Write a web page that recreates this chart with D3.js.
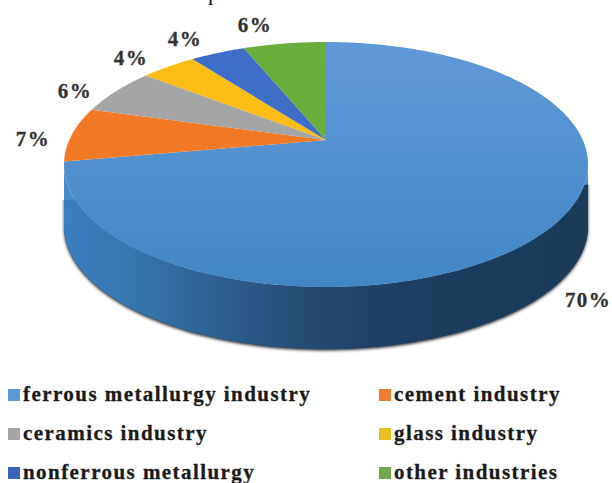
<!DOCTYPE html>
<html>
<head>
<meta charset="utf-8">
<style>
html,body{margin:0;padding:0;background:#fff;}
svg{display:block;}
text{font-family:"Liberation Serif",serif;font-weight:bold;}
</style>
<script src="https://cdn.jsdelivr.net/npm/d3@7"></script>
</head>
<body>
<svg id="chart" width="612" height="483"></svg>
<script>
const categories = ["ferrous metallurgy industry","cement industry","ceramics industry","glass industry","nonferrous metallurgy","other industries"];
const shares = [70,7,6,4,4,6];
const shareLabels = ["70%","7%","6%","4%","4%","6%"];
const colors = ["#5596d6","#f27a26","#a5a5a5","#fbbc14","#3d6ec8","#69ad3c"];
const swatchColors = ["#5b9bd5","#ed7d31","#a5a5a5","#e8c020","#3a64b8","#70a850"];
const labelCenters = [[588,300],[33,139],[75,91],[131,58],[185,39],[255,25]];

const svg = d3.select("#chart");
const defs = svg.append("defs");

// Perspective projection of a tilted disc: the far rim is foreshortened,
// which pushes the hub above the visual centre of the ellipse.
const hub = {x:326, y:140};
const tilt = 0.2, radiusX = 256.7, radiusY = 117.6, thickness = 62;
function rim(angle, drop = 0) {
  const u = Math.sin(angle), v = Math.cos(angle), w = 1 + tilt * v;
  return [hub.x + radiusX * u / w, hub.y - radiusY * v / w + drop];
}

const arcs = d3.pie().sort(null).value(d => d)(shares);
const line = d3.line();

// Vertical wash on the top face
const face = defs.append("linearGradient").attr("id","face-main")
  .attr("gradientUnits","userSpaceOnUse").attr("x1",0).attr("x2",0).attr("y1",42).attr("y2",287);
face.append("stop").attr("offset",0).attr("stop-color","#6199d8");
face.append("stop").attr("offset",1).attr("stop-color","#4187c6");

// Wall shading runs dark on the right, lighter toward the left end
const wall = defs.append("linearGradient").attr("id","wall")
  .attr("gradientUnits","userSpaceOnUse").attr("x1",64).attr("x2",590).attr("y1",0).attr("y2",0);
[[0,"#3a7fbf"],[0.14,"#3575ad"],[0.3,"#2c5f90"],[0.45,"#264c75"],[0.58,"#1e4166"],[0.75,"#1b3c5c"],[1,"#1a3a58"]]
  .forEach(([o,c]) => wall.append("stop").attr("offset",o).attr("stop-color",c));

defs.append("filter").attr("id","soft").attr("x","-5%").attr("y","-10%").attr("width","110%").attr("height","120%")
  .append("feGaussianBlur").attr("stdDeviation",1.6);

// The wall only shows below the widest part of the disc
defs.append("clipPath").attr("id","wall-clip").append("path")
  .attr("d", line([[0,202],[612,184],[612,483],[0,483]]) + "Z");

// Wall outline: the near half of the rim, swept down by the thickness
const sweep = d3.range(0, 121).map(i => {
  const start = Math.acos(-tilt);
  return start + (2 * Math.PI - 2 * start) * i / 120;
});
const wallPoints = sweep.map(a => rim(a)).concat(sweep.slice().reverse().map(a => rim(a, thickness)));
const wallPath = line(wallPoints) + "Z";

// Sliver above the clip line carries the face colour
svg.append("path").attr("d", wallPath).attr("fill","#4a8ccb");
const wallGroup = svg.append("g").attr("clip-path","url(#wall-clip)");
wallGroup.append("path").attr("d", wallPath)
  .attr("fill","#2a2d33").attr("filter","url(#soft)")
  .attr("transform","translate(0,1.5)");
wallGroup.append("path").attr("d", wallPath).attr("fill","url(#wall)");

// Top face slices
arcs.forEach((d, i) => {
  const n = Math.max(2, Math.ceil((d.endAngle - d.startAngle) / 0.01));
  const pts = d3.range(n + 1).map(k => rim(d.startAngle + (d.endAngle - d.startAngle) * k / n));
  svg.append("path")
    .attr("d", line([[hub.x, hub.y], ...pts]) + "Z")
    .attr("fill", i === 0 ? "url(#face-main)" : colors[i]);
});

// Percentage labels around the disc
svg.append("g").selectAll("text").data(shareLabels).join("text")
  .attr("x", (d, i) => labelCenters[i][0])
  .attr("y", (d, i) => labelCenters[i][1])
  .attr("text-anchor","middle").attr("dominant-baseline","central")
  .attr("font-size",21).attr("letter-spacing",1.4).attr("fill","#333")
  .attr("stroke","#333").attr("stroke-width",0.3)
  .text(d => d);

// Two-column legend
const legendX = d3.scaleOrdinal().domain([0,1]).range([8,379]);
const legendY = d3.scaleOrdinal().domain([0,1,2]).range([395,434,473]);
const legend = svg.append("g").selectAll("g").data(categories).join("g")
  .attr("transform",(d,i)=>`translate(${legendX(i%2)},${legendY(Math.floor(i/2))})`);
legend.append("rect").attr("x",0).attr("y",-6).attr("width",12).attr("height",12)
  .attr("fill",(d,i)=>swatchColors[i]);
legend.append("text").attr("x",15).attr("y",6)
  .attr("font-size",21).attr("letter-spacing",1.44).attr("fill","#1a1a1a")
  .attr("stroke","#1a1a1a").attr("stroke-width",0.3)
  .text(d=>d);

// Descender of the running text line above the figure
svg.append("text").attr("x",208).attr("y",0).attr("font-size",22)
  .style("font-weight","normal").attr("fill","#111").text("p");
</script>
</body>
</html>
